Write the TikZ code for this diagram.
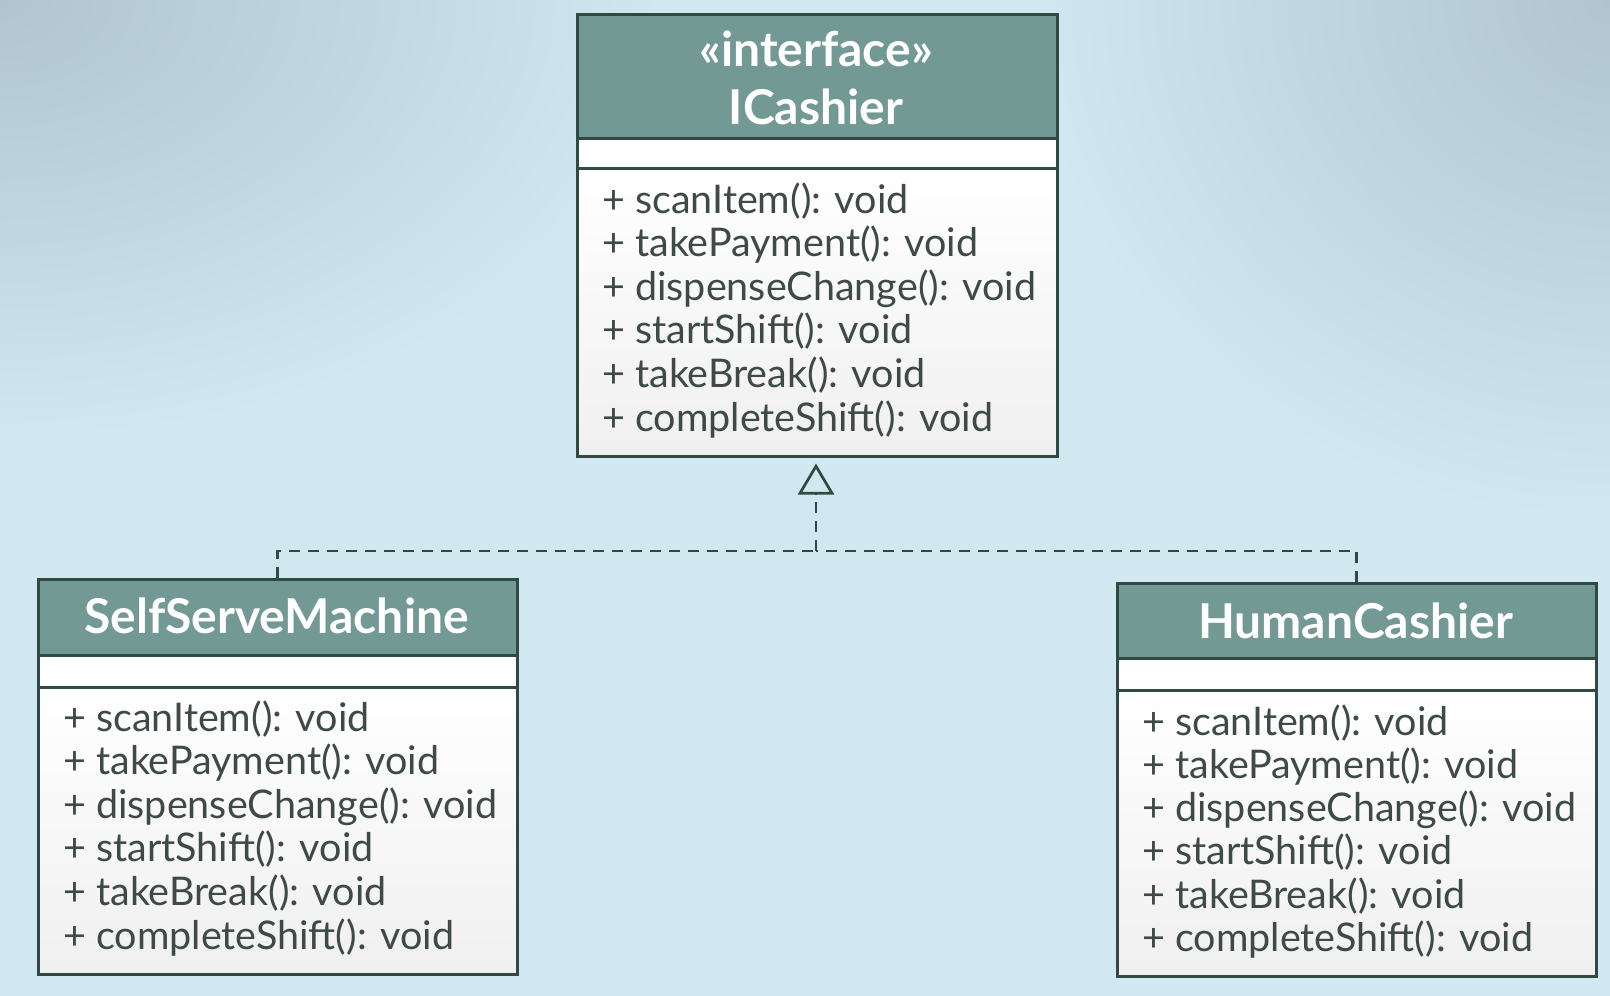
\documentclass[tikz,border=0pt]{standalone}
\usepackage{fontspec}
\setmainfont{Lato}
\usetikzlibrary{arrows.meta}
\definecolor{bgin}{HTML}{D1E8F0}
\definecolor{bgdark}{HTML}{B0C5CE}
\definecolor{umlhead}{HTML}{739995}
\definecolor{umlborder}{HTML}{2E4A42}
\definecolor{umltext}{HTML}{3D4A45}
\begin{document}
\begin{tikzpicture}[x=1pt,y=-1pt,
  box/.style={draw=umlborder, line width=2.5pt, rectangle, inner sep=0pt, anchor=north west},
  headbox/.style={box, fill=umlhead},
  attrbox/.style={box, fill=white},
  bodybox/.style={box, top color=white, bottom color=black!6},
  titletext/.style={text=white, font=\fontsize{48}{52}\selectfont\bfseries, inner sep=0pt, anchor=base},
  methtext/.style={text=umltext, font=\fontsize{39.5}{44}\selectfont, inner sep=0pt, anchor=base west},
  realize/.style={draw=umlborder, line width=2.7pt, dash pattern=on 11pt off 8pt}
]
\useasboundingbox (0,0) rectangle (1610,996);
\fill[bgin] (0,0) rectangle (1610,996);
\begin{scope}
\clip (0,0) rectangle (1610,996);
\shade[inner color=bgdark, outer color=bgin] (0,0) ellipse [x radius=680pt, y radius=440pt];
\shade[inner color=bgdark, outer color=bgin] (1610,0) ellipse [x radius=580pt, y radius=520pt];
\end{scope}

% ICashier
\node[headbox, minimum width=480pt, minimum height=124pt] (ifc-head) at (576,13) {};
\node[attrbox, minimum width=480pt, minimum height=30pt] (ifc-attr) at (576,137) {};
\node[bodybox, minimum width=480pt, minimum height=288pt] (ifc-body) at (576,167) {};
\node[titletext] (ifc-st) at (816,66) {«interface»};
\node[titletext] (ifc-name) at (816,124) {ICashier};

% SelfServeMachine
\node[headbox, minimum width=479pt, minimum height=76pt] (ssm-head) at (37,578) {};
\node[attrbox, minimum width=479pt, minimum height=32pt] (ssm-attr) at (37,654) {};
\node[bodybox, minimum width=479pt, minimum height=287pt] (ssm-body) at (37,686) {};
\node[titletext] (ssm-name) at (276.5,633) {SelfServeMachine};

% HumanCashier
\node[headbox, minimum width=479pt, minimum height=75pt] (hc-head) at (1116,582) {};
\node[attrbox, minimum width=479pt, minimum height=32pt] (hc-attr) at (1116,657) {};
\node[bodybox, minimum width=479pt, minimum height=286pt] (hc-body) at (1116,689) {};
\node[titletext] (hc-name) at (1355.5,638) {HumanCashier};

\foreach \t [count=\i from 0] in {{+ scanItem(): void},{+ takePayment(): void},{+ dispenseChange(): void},{+ startShift(): void},{+ takeBreak(): void},{+ completeShift(): void}}{
  \node[methtext] (ifc-m\i) at (602,213+43.6*\i) {\t};
  \node[methtext] (ssm-m\i) at (63,731+43.6*\i) {\t};
  \node[methtext] (hc-m\i) at (1142,735+43.3*\i) {\t};
}

% realization
\coordinate (j) at (816,551);
\draw[realize] (ssm-head.north) |- (j);
\draw[realize] (hc-head.north) |- (j);
\draw[realize, shorten >=6pt, -{Triangle[open, length=31pt, width=36pt, line width=2.7pt]}] (j) -- (j |- ifc-body.south);
\end{tikzpicture}
\end{document}
